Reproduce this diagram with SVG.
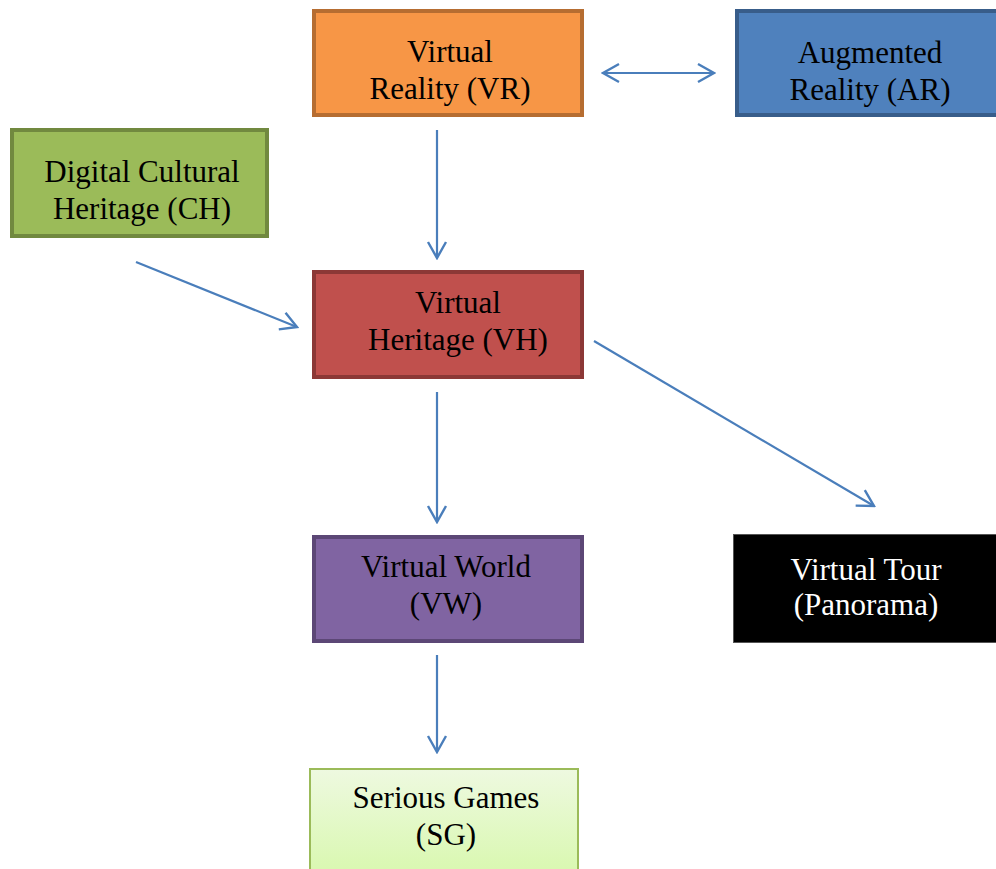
<svg xmlns="http://www.w3.org/2000/svg" width="996" height="869" viewBox="0 0 996 869">
<style>
text{font-family:"Liberation Serif","Times New Roman",serif;font-size:31px;fill:#000;text-anchor:middle}
.c{fill:none;stroke:#4a7ebb;stroke-width:2.2}
</style>
<defs>
<marker id="ah" viewBox="0 0 22 22" refX="20" refY="11" markerWidth="22" markerHeight="22" markerUnits="userSpaceOnUse" orient="auto-start-reverse">
<path d="M4,2 L20,11 L4,20" fill="none" stroke="#4a7ebb" stroke-width="2.4"/>
</marker>
<linearGradient id="sg" x1="0" y1="0" x2="0" y2="1">
<stop offset="0" stop-color="#eef9e0"/>
<stop offset="1" stop-color="#d9f8b0"/>
</linearGradient>
</defs>
<rect width="996" height="869" fill="#fff"/>
<g id="connectors">
<line class="c" x1="603" y1="73" x2="714" y2="73" marker-start="url(#ah)" marker-end="url(#ah)"/>
<line class="c" x1="437" y1="130" x2="437" y2="258" marker-end="url(#ah)"/>
<line class="c" x1="136" y1="262" x2="297" y2="327" marker-end="url(#ah)"/>
<line class="c" x1="437" y1="392" x2="437" y2="522" marker-end="url(#ah)"/>
<line class="c" x1="594" y1="341" x2="874" y2="506" marker-end="url(#ah)"/>
<line class="c" x1="437" y1="655" x2="437" y2="752" marker-end="url(#ah)"/>
</g>
<g id="vr">
<rect x="314" y="11" width="268" height="104" fill="#f79646" stroke="#b66d31" stroke-width="4"/>
<text x="450" y="62">Virtual</text>
<text x="450" y="99">Reality (VR)</text>
</g>
<g id="ar">
<rect x="737" y="11" width="262" height="104" fill="#4f81bd" stroke="#385d8a" stroke-width="4"/>
<text x="870" y="63">Augmented</text>
<text x="870" y="100">Reality (AR)</text>
</g>
<g id="ch">
<rect x="12" y="130" width="255" height="106" fill="#9bbb59" stroke="#71893f" stroke-width="4"/>
<text x="142" y="182">Digital Cultural</text>
<text x="142" y="219">Heritage (CH)</text>
</g>
<g id="vh">
<rect x="314" y="272" width="268" height="105" fill="#c0504d" stroke="#8c3836" stroke-width="4"/>
<text x="458" y="313">Virtual</text>
<text x="458" y="350">Heritage (VH)</text>
</g>
<g id="vw">
<rect x="314" y="537" width="268" height="104" fill="#8064a2" stroke="#5c4776" stroke-width="4"/>
<text x="446" y="577">Virtual World</text>
<text x="446" y="614">(VW)</text>
</g>
<g id="vt">
<rect x="733.5" y="534.5" width="264" height="108" fill="#000" stroke="#555" stroke-width="1"/>
<text x="866" y="580" style="fill:#fff">Virtual Tour</text>
<text x="866" y="615" style="fill:#fff">(Panorama)</text>
</g>
<g id="sg">
<rect x="310" y="769" width="268" height="104" fill="url(#sg)" stroke="#9bbb59" stroke-width="2"/>
<text x="446" y="808">Serious Games</text>
<text x="446" y="845">(SG)</text>
</g>
</svg>
